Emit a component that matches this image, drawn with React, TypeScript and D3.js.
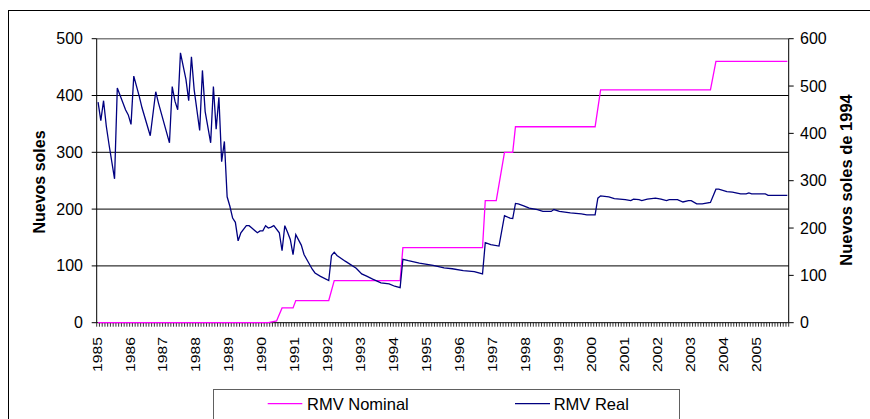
import React from 'react';
import * as d3 from 'd3';

const yearLabels = ['1985','1986','1987','1988','1989','1990','1991','1992','1993','1994','1995','1996','1997','1998','1999','2000','2001','2002','2003','2004','2005'];
const leftTicks = [0, 100, 200, 300, 400, 500];
const rightTicks = [0, 100, 200, 300, 400, 500, 600];

// RMV Nominal (Nuevos soles, left axis) – vertices of the monthly series
const nominalMonths = ['1985-01','1990-03','1990-06','1990-08','1990-12','1991-01','1992-01','1992-03','1994-03','1994-04','1996-09','1996-10','1997-02','1997-05','1997-08','1997-09','2000-02','2000-04','2003-08','2003-10','2005-12'];
const nominalValues = [0, 0, 3, 26, 26, 39, 39, 74, 74, 132, 132, 215, 215, 300, 300, 345, 345, 410, 410, 460, 460];

// RMV Real (Nuevos soles de 1994, right axis)
const realMonths = ['1985-01','1985-02','1985-03','1985-04','1985-05','1985-07','1985-08','1985-11','1985-12','1986-01','1986-02','1986-04','1986-05','1986-08','1986-10','1986-11','1987-03','1987-04','1987-05','1987-06','1987-07','1987-09','1987-10','1987-11','1987-12','1988-02','1988-03','1988-04','1988-06','1988-07','1988-08','1988-09','1988-10','1988-11','1988-12','1989-01','1989-02','1989-03','1989-04','1989-05','1989-07','1989-08','1989-09','1989-11','1989-12','1990-01','1990-02','1990-03','1990-04','1990-05','1990-07','1990-08','1990-09','1990-10','1990-11','1990-12','1991-01','1991-02','1991-03','1991-04','1991-07','1991-08','1991-10','1992-01','1992-02','1992-03','1992-04','1992-07','1992-11','1993-01','1993-03','1993-05','1993-08','1993-11','1994-01','1994-03','1994-04','1994-06','1994-10','1995-03','1995-07','1995-10','1996-02','1996-06','1996-09','1996-10','1996-12','1997-03','1997-05','1997-07','1997-08','1997-09','1997-10','1997-12','1998-02','1998-05','1998-07','1998-10','1998-11','1999-01','1999-05','1999-09','1999-10','1999-11','2000-02','2000-03','2000-04','2000-07','2000-09','2001-01','2001-03','2001-04','2001-06','2001-07','2001-09','2001-12','2002-02','2002-04','2002-05','2002-08','2002-10','2002-12','2003-01','2003-03','2003-05','2003-08','2003-10','2003-11','2004-02','2004-04','2004-07','2004-09','2004-10','2004-11','2005-04','2005-05','2005-12'];
const realValues = [466,427,469,415,376,304,496,450,439,419,521,478,454,395,488,464,380,499,468,450,570,514,469,562,492,406,533,446,380,499,409,476,340,383,266,246,221,212,173,190,205,205,200,190,194,194,205,200,202,205,190,152,205,191,176,144,186,175,164,144,113,105,98,89,142,149,142,130,115,103,98,92,84,82,77,74,134,131,126,121,116,114,110,108,103,169,165,162,226,221,220,252,251,247,242,239,235,235,239,235,232,230,229,228,228,263,268,266,262,260,258,261,260,258,261,263,261,258,260,260,255,258,258,251,251,254,282,282,277,276,272,272,274,272,272,269,269];

const W = 870, H = 419;
const PL = 96.7, PR = 788.7, PT = 38.7, PB = 322.7;
const NMONTHS = 252;
const FONT = 'Arial, "Liberation Sans", sans-serif';

const monthIndex = (s: string) => {
  const [y, m] = s.split('-').map(Number);
  return (y - 1985) * 12 + (m - 1);
};

export default function App() {
  const x = d3.scaleLinear().domain([0, NMONTHS]).range([PL, PR]);
  const xc = (i: number) => x(i + 0.5);
  const yL = d3.scaleLinear().domain([0, 500]).range([PB, PT]);
  const yR = d3.scaleLinear().domain([0, 600]).range([PB, PT]);

  const nominalData = nominalMonths.map((m, k) => ({ i: monthIndex(m), v: nominalValues[k] }));
  const realData = realMonths.map((m, k) => ({ i: monthIndex(m), v: realValues[k] }));

  const lineL = d3.line<{ i: number; v: number }>().x(d => xc(d.i)).y(d => yL(d.v));
  const lineR = d3.line<{ i: number; v: number }>().x(d => xc(d.i)).y(d => yR(d.v));

  const monthTicks = d3.range(NMONTHS + 1);

  return (
    <svg width={W} height={H} style={{ position: 'absolute', left: 0, top: 0, background: '#fff' }}>
      <rect x={8.5} y={10.5} width={900} height={500} fill="#fff" stroke="#000" strokeWidth={1} />
      {/* gridlines */}
      {leftTicks.filter(t => t > 0).map(t => (
        <line key={'g' + t} x1={PL} x2={PR} y1={yL(t)} y2={yL(t)}
          stroke={t === 500 ? '#808080' : '#000'} strokeWidth={t === 500 ? 1.6 : 1} />
      ))}
      {/* left axis */}
      <line x1={PL} x2={PL} y1={PT} y2={PB} stroke="#000" />
      {leftTicks.map(t => (
        <g key={'l' + t}>
          <line x1={PL - 5} x2={PL} y1={yL(t)} y2={yL(t)} stroke="#000" />
          <text x={83} y={yL(t)} textAnchor="end" dominantBaseline="central" fontSize={16} fontFamily={FONT} fill="#000">{t}</text>
        </g>
      ))}
      {/* right axis */}
      <line x1={PR} x2={PR} y1={PT} y2={PB} stroke="#000" />
      {rightTicks.map(t => (
        <g key={'r' + t}>
          <line x1={PR} x2={PR + 5} y1={yR(t)} y2={yR(t)} stroke="#000" />
          <text x={800} y={yR(t)} textAnchor="start" dominantBaseline="central" fontSize={16} fontFamily={FONT} fill="#000">{t}</text>
        </g>
      ))}
      {/* x axis */}
      <line x1={PL} x2={PR} y1={PB} y2={PB} stroke="#000" />
      {monthTicks.map(i => (
        <line key={'t' + i} x1={x(i)} x2={x(i)} y1={PB} y2={PB + 4} stroke="#000" strokeWidth={0.8} />
      ))}
      {yearLabels.map((lab, k) => (
        <text key={'x' + lab} transform={`translate(${xc(k * 12) - 1},337) rotate(-90)`}
          textAnchor="end" dominantBaseline="central" fontSize={13.5} fontFamily={FONT}
          textLength={35} lengthAdjust="spacingAndGlyphs" fill="#000">{lab}</text>
      ))}
      {/* axis titles */}
      <text transform="translate(44.5,182) rotate(-90)" textAnchor="middle" fontSize={16} fontWeight="bold" fontFamily={FONT} fill="#000">Nuevos soles</text>
      <text transform="translate(851.5,180) rotate(-90)" textAnchor="middle" fontSize={16.5} fontWeight="bold" fontFamily={FONT} fill="#000">Nuevos soles de 1994</text>
      {/* series */}
      <path d={lineL(nominalData) || ''} fill="none" stroke="#FF00FF" strokeWidth={1.3} />
      <path d={lineR(realData) || ''} fill="none" stroke="#000080" strokeWidth={1.3} />
      {/* legend */}
      <rect x={213.5} y={389.5} width={466} height={40} fill="#fff" stroke="#606060" strokeWidth={1} />
      <line x1={267.7} x2={302.3} y1={403.7} y2={403.7} stroke="#FF00FF" strokeWidth={1.3} />
      <text x={307} y={409.5} fontSize={16.5} fontFamily={FONT} fill="#000">RMV Nominal</text>
      <line x1={515} x2={550} y1={403.7} y2={403.7} stroke="#000080" strokeWidth={1.3} />
      <text x={553.7} y={409.5} fontSize={16.5} fontFamily={FONT} fill="#000">RMV Real</text>
    </svg>
  );
}
